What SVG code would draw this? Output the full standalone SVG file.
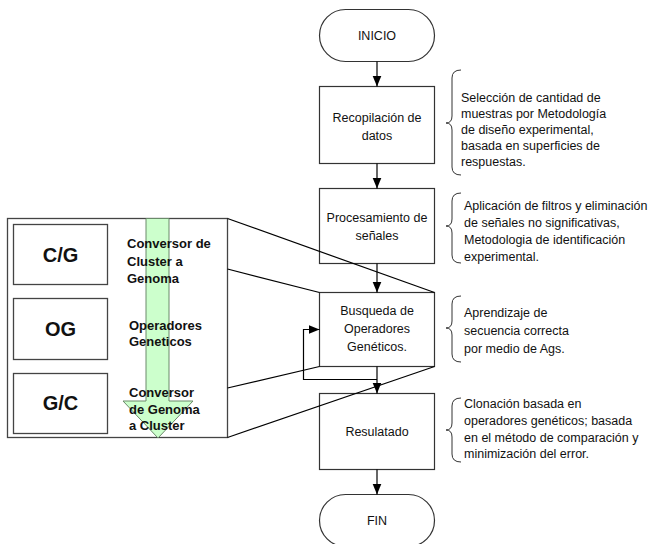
<svg xmlns="http://www.w3.org/2000/svg" width="655" height="544" viewBox="0 0 655 544">
<defs>
<marker id="ah" markerUnits="userSpaceOnUse" markerWidth="12" markerHeight="10" refX="11" refY="4.5" orient="auto">
<path d="M0,0 L11,4.5 L0,9 Z" fill="#000"/>
</marker>
<style>
.box{fill:#fff;stroke:#333;stroke-width:1.2}
.t{font-family:"Liberation Sans",Arial,sans-serif;font-size:12.5px;fill:#111}
.c{text-anchor:middle}
.b{font-family:"Liberation Sans",Arial,sans-serif;font-weight:bold;font-size:13px;fill:#111}
.big{font-family:"Liberation Sans",Arial,sans-serif;font-weight:bold;font-size:20px;fill:#111;text-anchor:middle}
.brace{fill:none;stroke:#333;stroke-width:1}
.ln{fill:none;stroke:#000;stroke-width:1.2}
.pl{fill:#fff;stroke:#444;stroke-width:1.3}
</style>
</defs>
<rect width="655" height="544" fill="#fff"/>

<g id="panel">
<rect class="pl" x="7.5" y="218.5" width="220" height="219"/>
<g id="cg"><rect class="pl" x="13.5" y="224.5" width="94" height="60"/><text class="big" x="60.5" y="262">C/G</text></g>
<g id="og"><rect class="pl" x="13.5" y="298.5" width="94" height="61"/><text class="big" x="60.5" y="336">OG</text></g>
<g id="gc"><rect class="pl" x="13.5" y="373.5" width="94" height="60"/><text class="big" x="60.5" y="410">G/C</text></g>
<polygon id="green-arrow" points="146,218.5 169,218.5 169,401 193,401 158,438 123,401 146,401" fill="#ccffcc" stroke="#6a8a6a" stroke-width="1"/>
<text class="b"><tspan x="127" y="248">Conversor de</tspan><tspan x="127" y="265.5">Cluster a</tspan><tspan x="127" y="283">Genoma</tspan></text>
<text class="b"><tspan x="129" y="330">Operadores</tspan><tspan x="129" y="346">Geneticos</tspan></text>
<text class="b"><tspan x="129" y="397">Conversor</tspan><tspan x="129" y="414">de Genoma</tspan><tspan x="129" y="430">a Cluster</tspan></text>
</g>

<g id="inicio"><rect class="box" x="319.5" y="9.5" width="115" height="52" rx="26"/><text class="t c" x="377" y="40">INICIO</text></g>
<g id="recop"><rect class="box" x="319.5" y="86.5" width="115" height="77"/><text class="t c"><tspan x="377" y="122">Recopilación de</tspan><tspan x="377" y="140">datos</tspan></text></g>
<g id="proc"><rect class="box" x="319.5" y="188.5" width="115" height="75"/><text class="t c"><tspan x="377" y="222">Procesamiento de</tspan><tspan x="377" y="240">señales</tspan></text></g>
<g id="busq"><rect class="box" x="319.5" y="292.5" width="115" height="74"/><text class="t c"><tspan x="377" y="315">Busqueda de</tspan><tspan x="377" y="333">Operadores</tspan><tspan x="377" y="351">Genéticos.</tspan></text></g>
<g id="res"><rect class="box" x="319.5" y="393.5" width="115" height="76"/><text class="t c" x="377" y="436">Resulatado</text></g>
<g id="fin"><rect class="box" x="319.5" y="494.5" width="115" height="52" rx="26"/><text class="t c" x="377" y="525">FIN</text></g>

<g id="note1"><path class="brace" d="M461,70 Q452,70 452,78 L452,116 Q452,123 446,123 Q452,123 452,130 L452,167 Q452,175 461,175"/>
<text class="t"><tspan x="461" y="102">Selección de cantidad de</tspan><tspan x="461" y="118">muestras por Metodología</tspan><tspan x="461" y="134">de diseño experimental,</tspan><tspan x="461" y="150">basada en superficies de</tspan><tspan x="461" y="166">respuestas.</tspan></text></g>
<g id="note2"><path class="brace" d="M461,193 Q452,193 452,201 L452,219 Q452,226 446,226 Q452,226 452,233 L452,255 Q452,263 461,263"/>
<text class="t"><tspan x="464" y="210">Aplicación de filtros y eliminación</tspan><tspan x="464" y="227">de señales no significativas,</tspan><tspan x="464" y="244">Metodologia de identificación</tspan><tspan x="464" y="261">experimental.</tspan></text></g>
<g id="note3"><path class="brace" d="M461,296 Q452,296 452,304 L452,321 Q452,328 446,328 Q452,328 452,335 L452,354 Q452,362 461,362"/>
<text class="t"><tspan x="464" y="317">Aprendizaje de</tspan><tspan x="464" y="335">secuencia correcta</tspan><tspan x="464" y="353">por medio de Ags.</tspan></text></g>
<g id="note4"><path class="brace" d="M461,398 Q452,398 452,406 L452,423 Q452,430 446,430 Q452,430 452,437 L452,454 Q452,462 461,462"/>
<text class="t"><tspan x="464" y="408">Clonación basada en</tspan><tspan x="464" y="425">operadores genéticos; basada</tspan><tspan x="464" y="442">en el método de comparación y</tspan><tspan x="464" y="458">minimización del error.</tspan></text></g>

<g id="connectors">
<path class="ln" d="M377,61.5 L377,86.5" marker-end="url(#ah)"/>
<path class="ln" d="M377,163.5 L377,188.5" marker-end="url(#ah)"/>
<path class="ln" d="M377,263.5 L377,292.5" marker-end="url(#ah)"/>
<path class="ln" d="M377,366.5 L377,393.5" marker-end="url(#ah)"/>
<path class="ln" d="M377,379.5 L303.5,379.5 L303.5,329.5 L319.5,329.5" marker-end="url(#ah)"/>
<path class="ln" d="M377,469.5 L377,494.5" marker-end="url(#ah)"/>
<path class="ln" d="M227.5,218.5 L434.5,292.5"/>
<path class="ln" d="M227.5,269 L319.5,292.5"/>
<path class="ln" d="M227.5,388 L319.5,366.5"/>
<path class="ln" d="M227.5,437.5 L434.5,366.5"/>
</g>
</svg>
